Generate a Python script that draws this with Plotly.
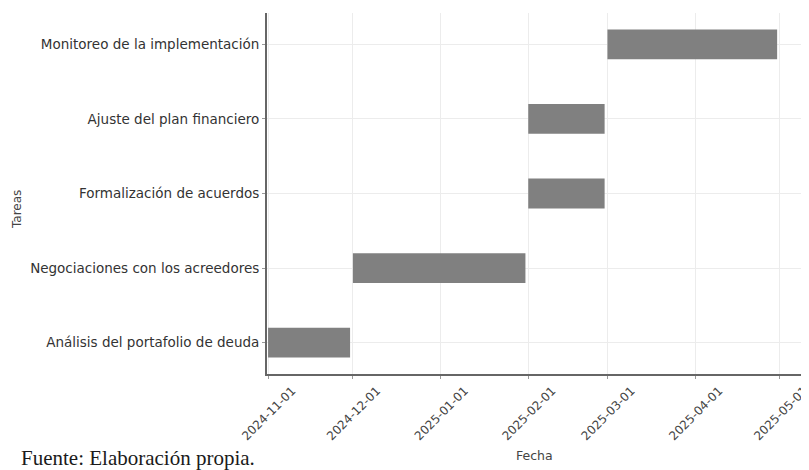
import pandas as pd
import plotly.graph_objects as go

tasks = [
    "Análisis del portafolio de deuda",
    "Negociaciones con los acreedores",
    "Formalización de acuerdos",
    "Ajuste del plan financiero",
    "Monitoreo de la implementación",
]
start_dates = ["2024-11-01", "2024-12-01", "2025-02-01", "2025-02-01", "2025-03-01"]
end_dates = ["2024-11-30", "2025-01-31", "2025-02-28", "2025-02-28", "2025-04-30"]
tick_vals = ["2024-11-01", "2024-12-01", "2025-01-01", "2025-02-01",
             "2025-03-01", "2025-04-01", "2025-05-01"]

starts = pd.to_datetime(start_dates)
ends = pd.to_datetime(end_dates)
durations_ms = [(e - s).total_seconds() * 1000 for s, e in zip(starts, ends)]

# The page body has an 8 px margin, so the figure is drawn 8 px smaller.
OFF = 8
PL, PR, PT, PB = 267, 802, 13, 374   # plot area in screen pixels
PW, PH = PR - PL, PB - PT


def px(X):
    return (X - PL) / PW


def py(Y):
    return (PB - Y) / PH


fig = go.Figure()
fig.add_trace(go.Bar(
    y=tasks,
    x=durations_ms,
    base=start_dates,
    orientation="h",
    width=0.4,
    marker=dict(color="#808080", line=dict(width=0)),
    showlegend=False,
))

font_main = "DejaVu Sans, Verdana, sans-serif"
fig.update_layout(
    width=809 - OFF, height=470 - OFF,
    margin=dict(l=PL - OFF, r=809 - PR, t=PT - OFF, b=470 - PB),
    paper_bgcolor="white", plot_bgcolor="white",
    font=dict(family=font_main, size=12, color="#333333"),
)
fig.update_xaxes(
    type="date",
    range=["2024-10-31 15:00", "2025-05-08 19:00"],
    tickmode="array",
    tickvals=tick_vals,
    ticktext=tick_vals,
    tickangle=-45,
    ticklabelshift=24,
    ticklabeloverflow="allow",
    tickfont=dict(size=12, color="#444444"),
    showgrid=True, gridcolor="#ececec", gridwidth=1,
    showline=True, linecolor="#666666", linewidth=2,
    ticks="outside", ticklen=3, tickcolor="#999999",
    zeroline=False,
    automargin=False,
)
fig.update_yaxes(
    type="category",
    categoryorder="array", categoryarray=tasks,
    range=[-0.42, 4.42],
    tickfont=dict(size=13.5, color="#333333"),
    showgrid=True, gridcolor="#ececec", gridwidth=1,
    showline=True, linecolor="#666666", linewidth=2,
    ticks="outside", ticklen=3, tickcolor="#999999",
    zeroline=False,
    automargin=False,
)

fig.add_annotation(
    text="Tareas", xref="paper", yref="paper",
    x=px(17), y=py(210), textangle=-90,
    showarrow=False, font=dict(family=font_main, size=12, color="#444444"),
    xanchor="center", yanchor="middle",
)
fig.add_annotation(
    text="Fecha", xref="paper", yref="paper",
    x=0.5, y=py(455),
    showarrow=False, font=dict(family=font_main, size=12.5, color="#444444"),
    xanchor="center", yanchor="middle",
)
fig.add_annotation(
    text="Fuente: Elaboración propia.", xref="paper", yref="paper",
    x=px(19), y=py(458),
    showarrow=False,
    font=dict(family="Liberation Serif, Times New Roman, serif", size=21, color="#1a1a1a"),
    xanchor="left", yanchor="middle",
)

fig.write_html("out.html")
